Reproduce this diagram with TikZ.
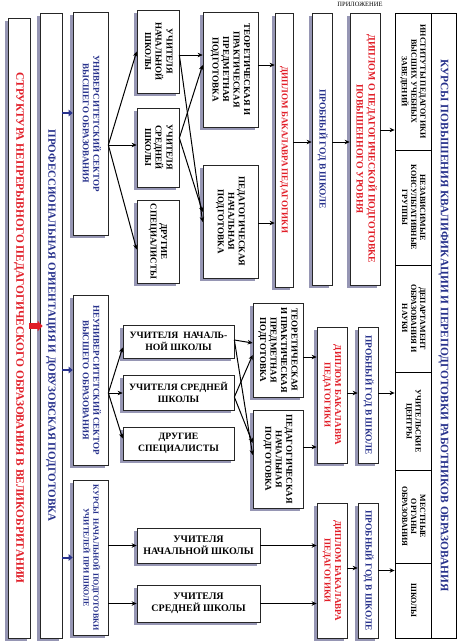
\documentclass[tikz,border=0pt]{standalone}
\usepackage{fontspec}
\setmainfont{Liberation Serif}
\usepackage{graphicx}
\usetikzlibrary{shadows,calc,arrows.meta}
\definecolor{navy}{RGB}{40,50,140}
\definecolor{redt}{RGB}{225,30,40}
\definecolor{shadowc}{RGB}{150,150,180}
\newcommand{\rt}[1]{\rotatebox{-90}{\begin{tabular}{@{}c@{}}#1\end{tabular}}}
\tikzset{
  box/.style={draw=black!85, line width=0.7pt, fill=white, inner sep=0pt, align=center,
    drop shadow={shadow xshift=-3pt, shadow yshift=-3pt, fill=shadowc, opacity=1},
    font=\bfseries\fontsize{9}{10.5}\selectfont},
  cell/.style={draw=black, line width=0.8pt, fill=white, inner sep=0pt, align=center,
    font=\bfseries\fontsize{8}{9}\selectfont},
  titletxt/.style={font=\bfseries\fontsize{11.4}{13}\selectfont},
  bigtxt/.style={font=\bfseries\fontsize{11}{13}\selectfont},
  midtxt/.style={font=\bfseries\fontsize{9}{10.5}\selectfont},
  smalltxt/.style={font=\bfseries\fontsize{8}{10}\selectfont},
  gtxt/.style={font=\bfseries\fontsize{9.4}{11}\selectfont},
  htxt/.style={font=\bfseries\fontsize{9.8}{12}\selectfont},
  mtxt/.style={font=\bfseries\fontsize{9.7}{11.5}\selectfont},
  qtxt/.style={font=\bfseries\fontsize{10}{12}\selectfont},
  navytxt/.style={text=navy},
  redtxt/.style={text=redt},
  arr/.style={-{Stealth[length=5pt,width=4.5pt]}, line width=1pt},
  barr/.style={-{Triangle[length=4pt,width=6.5pt]}, line width=2pt, draw=navy},
  rarr/.style={-{Triangle[length=5pt,width=10pt]}, line width=6pt, draw=redt}
}
\begin{document}
\begin{tikzpicture}[x=1pt,y=-1pt]
\useasboundingbox[fill=white] (0,0) rectangle (457,641);
% column A, B
\node[box, titletxt, redtxt, minimum width=22pt, minimum height=620pt] (a) at (19,328)
  {\rt{СТРУКТУРА НЕПРЕРЫВНОГО ПЕДАГОГИЧЕСКОГО ОБРАЗОВАНИЯ В ВЕЛИКОБРИТАНИИ}};
\node[box, bigtxt, navytxt, minimum width=22pt, minimum height=625pt] (b) at (51,325.5)
  {\rt{ПРОФЕССИОНАЛЬНАЯ ОРИЕНТАЦИЯ И ДОВУЗОВСКАЯ ПОДГОТОВКА}};
% column C
\node[box, midtxt, navytxt, minimum width=35pt, minimum height=223pt] (c1) at (90.5,123.5)
  {\rt{УНИВЕРСИТЕТСКИЙ СЕКТОР\\ВЫСШЕГО ОБРАЗОВАНИЯ}};
\node[box, midtxt, navytxt, minimum width=35pt, minimum height=170pt] (c2) at (90.5,380)
  {\rt{НЕУНИВЕРСИТЕТСКИЙ СЕКТОР\\ВЫСШЕГО ОБРАЗОВАНИЯ}};
\node[box, smalltxt, navytxt, minimum width=35pt, minimum height=155pt] (c3) at (90.5,557.5)
  {\rt{КУРСЫ\ \ НАЧАЛЬНОЙ ПОДГОТОВКИ\\УЧИТЕЛЕЙ ПРИ ШКОЛЕ}};
% top section
\node[box, minimum width=42pt, minimum height=83pt] (d1) at (158,51.5) {\rt{УЧИТЕЛЯ\\НАЧАЛЬНОЙ\\ШКОЛЫ}};
\node[box, minimum width=42pt, minimum height=79pt] (d2) at (158,147.5) {\rt{УЧИТЕЛЯ\\СРЕДНЕЙ\\ШКОЛЫ}};
\node[box, minimum width=42pt, minimum height=83pt] (d3) at (158,241.5) {\rt{ДРУГИЕ\\СПЕЦИАЛИСТЫ}};
\node[box, minimum width=55pt, minimum height=115pt] (e1) at (230.5,69.5)
  {\rt{ТЕОРЕТИЧЕСКАЯ И\\ПРАКТИЧЕСКАЯ\\ПРЕДМЕТНАЯ\\ПОДГОТОВКА}};
\node[box, minimum width=55pt, minimum height=113pt] (e2) at (230.5,221.5)
  {\rt{ПЕДАГОГИЧЕСКАЯ\\НАЧАЛЬНАЯ\\ПОДГОТОВКА}};
\node[box, redtxt, minimum width=18pt, minimum height=274pt] (f) at (284,150)
  {\rt{ДИПЛОМ БАКАЛАВРА ПЕДАГОГИКИ}};
\node[box, gtxt, navytxt, minimum width=20pt, minimum height=272pt] (g) at (322,149)
  {\rt{ПРОБНЫЙ ГОД В ШКОЛЕ}};
\node[box, htxt, redtxt, minimum width=30pt, minimum height=272pt] (h) at (365,149)
  {\rt{ДИПЛОМ О ПЕДАГОГИЧЕСКОЙ ПОДГОТОВКЕ\\ПОВЫШЕННОГО УРОВНЯ}};
% middle section
\node[box, mtxt, minimum width=111pt, minimum height=33pt] (m1) at (178.5,341.5) {УЧИТЕЛЯ\ \ НАЧАЛЬ-\\НОЙ ШКОЛЫ};
\node[box, mtxt, minimum width=111pt, minimum height=35pt] (m2) at (178.5,392.5) {УЧИТЕЛЯ СРЕДНЕЙ\\ШКОЛЫ};
\node[box, mtxt, minimum width=111pt, minimum height=33pt] (m3) at (178.5,443.5) {ДРУГИЕ\\СПЕЦИАЛИСТЫ};
\node[box, minimum width=50pt, minimum height=94pt] (n1) at (278,350)
  {\rt{ТЕОРЕТИЧЕСКАЯ\\И ПРАКТИЧЕСКАЯ\\ПРЕДМЕТНАЯ\\ПОДГОТОВКА}};
\node[box, minimum width=50pt, minimum height=98pt] (n2) at (278,459)
  {\rt{ПЕДАГОГИЧЕСКАЯ\\НАЧАЛЬНАЯ\\ПОДГОТОВКА}};
\node[box, redtxt, minimum width=30pt, minimum height=136pt] (o) at (332,395)
  {\rt{ДИПЛОМ БАКАЛАВРА\\ПЕДАГОГИКИ}};
\node[box, gtxt, navytxt, minimum width=20pt, minimum height=136pt] (p) at (368,395)
  {\rt{ПРОБНЫЙ ГОД В ШКОЛЕ}};
% bottom section
\node[box, qtxt, minimum width=123pt, minimum height=35pt] (q1) at (198.5,545.5) {УЧИТЕЛЯ\\НАЧАЛЬНОЙ ШКОЛЫ};
\node[box, qtxt, minimum width=123pt, minimum height=37pt] (q2) at (198.5,603.5) {УЧИТЕЛЯ\\СРЕДНЕЙ ШКОЛЫ};
\node[box, redtxt, minimum width=30pt, minimum height=135pt] (r) at (332,570.5)
  {\rt{ДИПЛОМ БАКАЛАВРА\\ПЕДАГОГИКИ}};
\node[box, gtxt, navytxt, minimum width=20pt, minimum height=135pt] (s) at (368,570.5)
  {\rt{ПРОБНЫЙ ГОД В ШКОЛЕ}};
% table
\node[cell, minimum width=36pt, minimum height=137pt] (t1) at (413,81.5) {\rt{ИНСТИТУТЫ ПЕДАГОГИКИ\\ВЫСШИХ УЧЕБНЫХ\\ЗАВЕДЕНИЙ}};
\node[cell, minimum width=36pt, minimum height=115pt] (t2) at (413,207.5) {\rt{НЕЗАВИСИМЫЕ\\КОНСУЛЬТАТИВНЫЕ\\ГРУППЫ}};
\node[cell, minimum width=36pt, minimum height=107pt] (t3) at (413,318.5) {\rt{ДЕПАРТАМЕНТ\\ОБРАЗОВАНИЯ И\\НАУКИ}};
\node[cell, minimum width=36pt, minimum height=98pt] (t4) at (413,421) {\rt{УЧИТЕЛЬСКИЕ\\ЦЕНТРЫ}};
\node[cell, minimum width=36pt, minimum height=93pt] (t5) at (413,516.5) {\rt{МЕСТНЫЕ\\ОРГАНЫ\\ОБРАЗОВАНИЯ}};
\node[cell, minimum width=36pt, minimum height=75pt] (t6) at (413,600.5) {\rt{ШКОЛЫ}};
\node[cell, titletxt, navytxt, minimum width=25pt, minimum height=625pt] (ts) at (443.5,325.5)
  {\rt{КУРСЫ ПОВЫШЕНИЯ КВАЛИФИКАЦИИ И ПЕРЕПОДГОТОВКИ РАБОТНИКОВ ОБРАЗОВАНИЯ}};
\node[font=\fontsize{6.5}{8}\selectfont, inner sep=0pt] (pril) at (360,4.5) {ПРИЛОЖЕНИЕ};
% red and blue arrows
\draw[rarr] ($(a.east)+(-1,-2)$) coordinate (ra) -- ($(ra -| b.west)+(3,0)$);
\draw[barr] ($(b.east |- c1.west)+(0,-10.5)$) coordinate (b1) -- (b1 -| c1.west);
\draw[barr] ($(b.east |- c2.west)+(0,-10)$) coordinate (b2) -- (b2 -| c2.west);
\draw[barr] (b.east |- c3.west) -- (c3.west);
% top fan
\draw[arr] ($(c1.east)+(0,21.5)$) -- (d1.west);
\draw[arr] ($(c1.east)+(0,21.5)$) -- ($(d2.west)+(0,-2.5)$);
\draw[arr] ($(c1.east)+(0,21.5)$) -- ($(d3.west)+(0,8)$);
\draw[arr] ($(d1.east)+(0,3.5)$) -- ($(e1.west)+(0,-14.5)$);
\draw[arr] ($(d1.east)+(0,3.5)$) -- ($(e2.west)+(0,0.5)$);
\draw[arr] ($(d2.east)+(0,-9.5)$) -- ($(e1.west)+(0,-4.5)$);
\draw[arr] ($(d2.east)+(0,-9.5)$) -- ($(e2.west)+(0,-9.5)$);
\draw[arr] ($(e1.east)+(0,-4.5)$) coordinate (k1) -- (k1 -| f.west);
\draw[arr] ($(e2.east)+(0,1.5)$) coordinate (k2) -- (k2 -| f.west);
\draw[arr] ($(f.east)+(0,-8)$) coordinate (k3) -- (k3 -| g.west);
\draw[arr] ($(g.east)+(0,-7)$) coordinate (k4) -- (k4 -| h.west);
\draw[arr] ($(h.east)+(0,-19)$) coordinate (k5) -- (k5 -| t1.west);
% middle fan
\draw[arr] ($(c2.east)+(0,13)$) -- ($(m1.west)+(0,6)$);
\draw[arr] ($(c2.east)+(0,13)$) -- ($(m2.west)+(0,0.5)$);
\draw[arr] ($(c2.east)+(0,13)$) -- ($(m3.west)+(0,-5)$);
\draw[arr] ($(m1.east)+(0,-1.5)$) -- ($(n1.west)+(0,-7)$);
\draw[arr] ($(m1.east)+(0,-1.5)$) -- ($(n2.west)+(0,-4)$);
\draw[arr] ($(m2.east)+(0,4.5)$) -- ($(n1.west)+(0,5)$);
\draw[arr] ($(m2.east)+(0,4.5)$) -- ($(n2.west)+(0,-16)$);
\draw[arr] ($(n1.east)+(0,7)$) coordinate (k6) -- (k6 -| o.west);
\draw[arr] ($(n2.east)+(0,-12)$) coordinate (k7) -- (k7 -| o.west);
\draw[arr] ($(o.east)+(0,-2)$) coordinate (k8) -- (k8 -| p.west);
\draw[arr] ($(p.east)+(0,-2)$) coordinate (k9) -- (k9 -| t4.west);
% bottom
\draw[arr] (c3.east |- q1.west) -- (q1.west);
\draw[arr] (c3.east |- q2.west) -- (q2.west);
\draw[arr] (q1.east) -- (q1.east -| r.west);
\draw[arr] (q2.east) -- (q2.east -| r.west);
\draw[arr] ($(r.east)+(0,-2.5)$) coordinate (k10) -- (k10 -| s.west);
\draw[arr] (s.east) -- (s.east -| t6.west);
\end{tikzpicture}
\end{document}
